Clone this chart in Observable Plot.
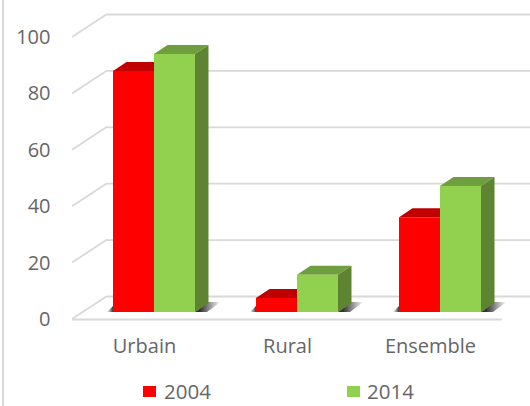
<!DOCTYPE html>
<html><head><meta charset="utf-8">
<script src="https://cdn.jsdelivr.net/npm/d3@7"></script>
<script src="https://cdn.jsdelivr.net/npm/@observablehq/plot@0.6"></script>
<style>
html,body{margin:0;padding:0;background:#fff;width:530px;height:406px;overflow:hidden}
#frame{position:absolute;left:2px;top:0;width:2px;height:406px;background:#d9d9d9}
#chart{position:absolute;left:0;top:0}
#legend{position:absolute;left:0;top:375px;width:530px;height:31px;font:20.5px "Open Sans",sans-serif;color:#666}
#legend span{position:absolute;top:2px;line-height:28px}
#legend i{position:absolute;top:11px;width:13px;height:11px}
</style></head><body>
<div id="chart"></div><div id="frame"></div>
<div id="legend"></div>
<script>
const categories = ["Urbain", "Rural", "Ensemble"];
const years = ["2004", "2014"];
const values2004 = [85.5, 5, 33.6];
const values2014 = [91.5, 13.2, 44.7];
const yTicks = [0, 20, 40, 60, 80, 100];
const frontColors = ["#ff0000", "#92d050"];
const topColors = ["#c00000", "#6f9e3e"];
const sideColors = ["#c00000", "#5e8431"];
const gridColor = "#d9d9d9";
const textColor = "#666666";

const rows = years.map((year, s) => categories.map((category, i) => ({
  category, year, s, value: (s ? values2014 : values2004)[i]
})));

const barW = 41, lift = 7, depthX = 13.5, depthY = 9, backX = 35, backY = 23;
const offset = s => s ? barW / 2 : -barW / 2;

// Floor shadows, diagonal grid lines, and each bar's top and side faces
const poly = (g, pts, fill) => g.append("polygon").attr("points", pts.map(p => p.join(",")).join(" ")).attr("fill", fill);

const diagonals = (index, {y}, values, {marginLeft}) => {
  const g = d3.create("svg:g").attr("stroke", gridColor).attr("stroke-width", 1.8);
  for (const t of yTicks) g.append("line").attr("x1", marginLeft).attr("y1", y(t))
    .attr("x2", marginLeft + backX).attr("y2", y(t) - backY);
  return g.node();
};

const shadows = (index, {x, y}) => {
  const g = d3.create("svg:g");
  const defs = g.append("defs");
  const gr = defs.append("linearGradient").attr("id", "sh");
  gr.append("stop").attr("offset", "0.2").attr("stop-color", "#333");
  gr.append("stop").attr("offset", "1").attr("stop-color", "#333").attr("stop-opacity", 0);
  const gl = defs.append("linearGradient").attr("id", "sl");
  gl.append("stop").attr("offset", "0").attr("stop-color", "#888").attr("stop-opacity", 0.2);
  gl.append("stop").attr("offset", "1").attr("stop-color", "#333");
  for (const c of categories) {
    const l = x(c) + x.bandwidth() / 2 - barW, r = l + 2 * barW, b = y(0) - lift;
    poly(g, [[r, b], [r + depthX, b - 10], [r + depthX + 12, b - 10], [r + 12, b]], "url(#sh)");
    poly(g, [[l - 6, b], [l, b - 6], [l, b]], "url(#sl)");
  }
  return g.node();
};

const faces = s => (index, {x, y}) => {
  const g = d3.create("svg:g");
  for (const d of rows[s]) {
    const l = x(d.category) + x.bandwidth() / 2 + offset(s) - barW / 2, r = l + barW;
    const t = y(d.value) - lift, b = y(0) - lift;
    poly(g, [[l, t], [l + depthX, t - depthY], [r + depthX, t - depthY], [r, t]], topColors[s]);
    poly(g, [[r, t], [r + depthX, t - depthY], [r + depthX, b - depthY], [r, b]], sideColors[s]);
  }
  return g.node();
};

const plot = Plot.plot({
  width: 530, height: 375,
  marginLeft: 72, marginRight: 0, marginTop: 0, marginBottom: 56,
  style: {background: "transparent", fontFamily: "'Open Sans', sans-serif", overflow: "visible"},
  x: {type: "band", domain: categories, range: [82.5, 511.5], paddingInner: 0.7133, paddingOuter: 0.3566, round: false, label: null},
  y: {domain: [0, 100], range: [319, 37], label: null},
  marks: [
    Plot.ruleY(yTicks, {stroke: gridColor, strokeWidth: 1.8, dy: -backY, insetLeft: backX}),
    diagonals,
    Plot.ruleY([0], {stroke: gridColor, strokeWidth: 2, insetRight: 28}),
    shadows,
    faces(0),
    Plot.barY(rows[0], {x: "category", y: "value", dx: offset(0), dy: -lift, fill: frontColors[0]}),
    faces(1),
    Plot.barY(rows[1], {x: "category", y: "value", dx: offset(1), dy: -lift, fill: frontColors[1]}),
    Plot.axisY({ticks: yTicks, tickSize: 0, tickPadding: 22, fontSize: 20, color: textColor, label: null}),
    Plot.axisX({tickSize: 0, tickPadding: 19, fontSize: 20, color: textColor, dx: -10, label: null})
  ]
});
document.getElementById("chart").append(plot);

const legend = document.getElementById("legend");
const swatchX = [143, 347], labelX = [164, 367];
years.forEach((year, s) => {
  const i = document.createElement("i");
  i.style.left = swatchX[s] + "px"; i.style.background = frontColors[s];
  const t = document.createElement("span");
  t.style.left = labelX[s] + "px"; t.textContent = year;
  legend.append(i, t);
});
</script></body></html>
